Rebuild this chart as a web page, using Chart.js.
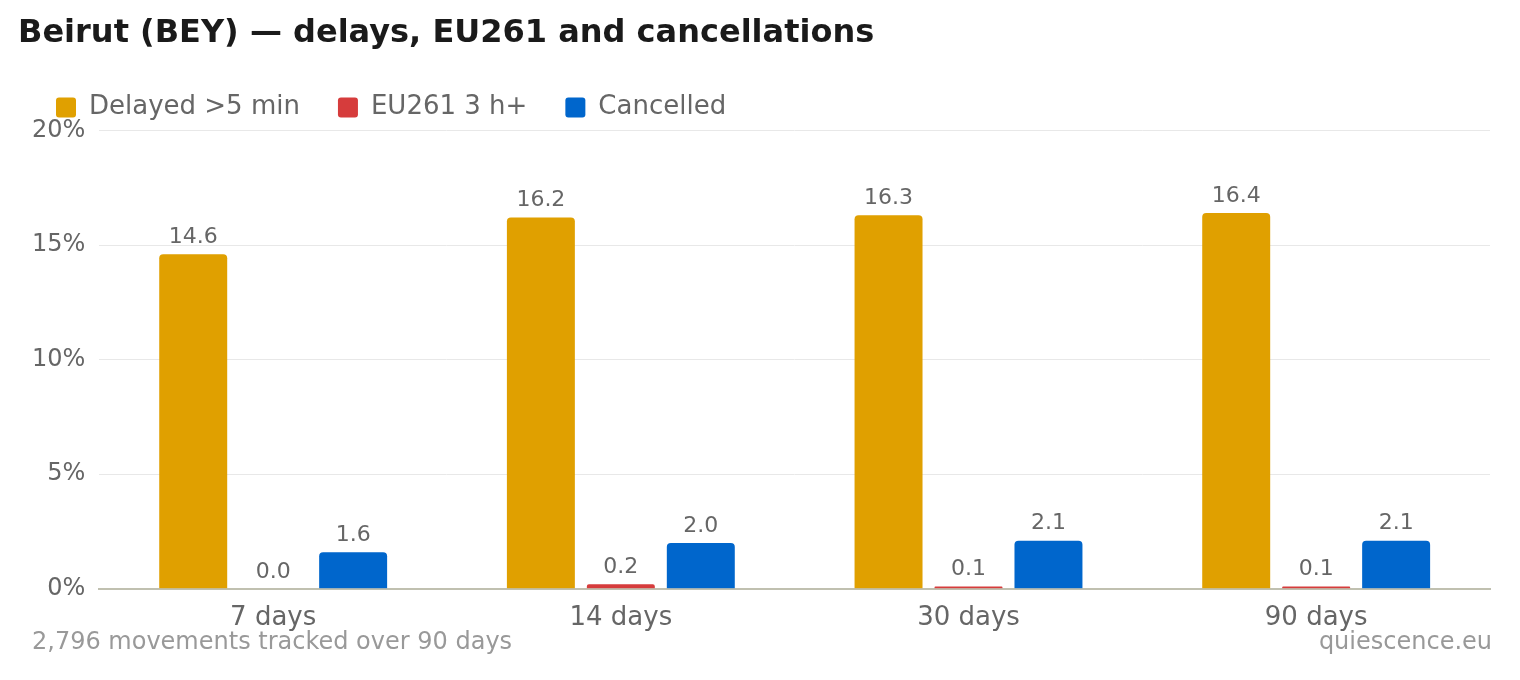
<!DOCTYPE html>
<html><head><meta charset="utf-8">
<script src="https://cdn.jsdelivr.net/npm/chart.js@4"></script>
<style>html,body{margin:0;padding:0;background:#fff;font-family:"DejaVu Sans"}#w{width:1520px;height:680px}#pre{position:absolute;left:-9999px;font-family:"DejaVu Sans"}</style>
</head><body><span id="pre">x<b>x</b></span><div id="w"><canvas id="c" width="1520" height="680"></canvas></div>
<script>
const categories=["7 days","14 days","30 days","90 days"];
const delayed=[14.6,16.2,16.3,16.4];
const eu261=[0.0,0.2,0.1,0.1];
const cancelled=[1.6,2.0,2.1,2.1];
const yTicks=[0,5,10,15,20];
const F="DejaVu Sans";
const labelsPlugin={id:'lbl',afterDatasetsDraw(ch){const x=ch.ctx;x.save();x.font="22px "+F;x.fillStyle="#666";x.textAlign="center";x.textBaseline="bottom";
ch.data.datasets.forEach((d,i)=>{ch.getDatasetMeta(i).data.forEach((b,j)=>{x.fillText(d.data[j].toFixed(1),b.x,b.y-6);});});x.restore();}};
const footer={id:'ft',afterDraw(ch){const x=ch.ctx;x.save();x.font="24px "+F;x.fillStyle="#999";x.textBaseline="middle";x.textAlign="left";x.fillText("2,796 movements tracked over 90 days",32,643);x.textAlign="right";x.fillText("quiescence.eu",1492,643);x.restore();}};
function draw(){
new Chart(document.getElementById('c'),{type:'bar',
data:{labels:categories,datasets:[
{label:"Delayed >5 min",data:delayed,backgroundColor:"#e0a000"},
{label:"EU261 3 h+",data:eu261,backgroundColor:"#d63c3c"},
{label:"Cancelled",data:cancelled,backgroundColor:"#0066cc"}]},
options:{responsive:false,animation:false,devicePixelRatio:1,
datasets:{bar:{categoryPercentage:0.69,barPercentage:0.85,borderRadius:{topLeft:4,topRight:4},borderSkipped:'bottom'}},
layout:{padding:{left:18,right:30,bottom:40,top:4}},
plugins:{tooltip:{enabled:false},
title:{display:true,text:"Beirut (BEY) — delays, EU261 and cancellations",align:'start',color:"#1a1a1a",font:{family:F,size:32,weight:'bold'},padding:{top:10,bottom:4}},
legend:{align:'start',labels:{boxWidth:20,boxHeight:20,useBorderRadius:true,borderRadius:3,color:"#666",font:{family:F,size:26},padding:38}}},
scales:{y:{min:0,max:20,ticks:{stepSize:5,color:"#666",font:{family:F,size:24},callback:v=>v+"%",padding:14},grid:{color:"#e8e8e8",drawTicks:false},border:{display:false}},
x:{ticks:{color:"#666",font:{family:F,size:26},padding:6},grid:{display:false},border:{color:"#c0c0b0",width:2}}}},
plugins:[labelsPlugin,footer]});}
(document.fonts?document.fonts.load("bold 32px 'DejaVu Sans'").then(()=>document.fonts.load("26px 'DejaVu Sans'")):Promise.resolve()).then(draw,draw);
</script></body></html>
